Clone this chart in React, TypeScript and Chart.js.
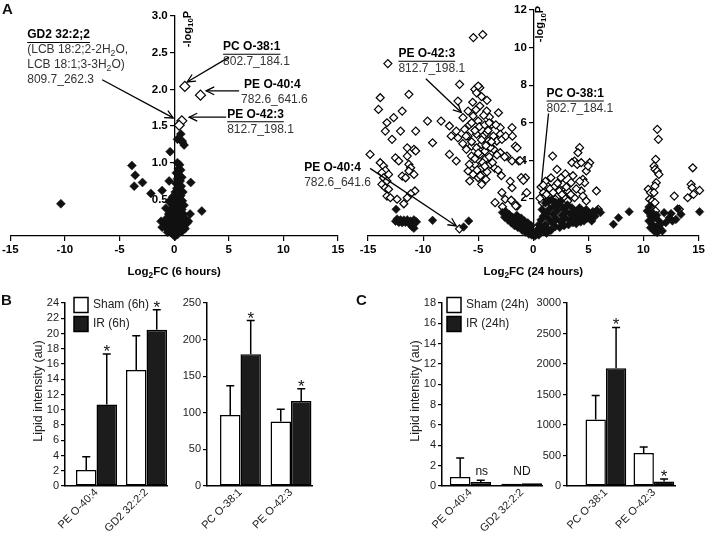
import React, { useEffect, useRef } from 'react';
import { Chart, registerables } from 'chart.js';

Chart.register(...registerables);

const FONT = '"Liberation Sans", Arial, Helvetica, sans-serif';
Chart.defaults.font.family = FONT;

type Pt = [number, number];
type Seg = [string, boolean?];

// ---------------- Panel A: 6 hours (Log2FC, -log10P) ----------------
const sixHourSignificant: Pt[] = [[0.98, 2.04], [2.41, 1.92], [0.7, 1.57], [0.46, 1.51]];
const sixHourOther: Pt[] = [
  [-10.37, 0.44], [-3.87, 0.96], [-3.57, 0.83], [-3.66, 0.68], [-2.9, 0.73], [-2.13, 0.58], [-1.1, 0.62],
  [0.61, 1.39], [0.3, 1.32], [0.7, 1.3], [0.91, 1.24], [0.76, 1.28], [-0.37, 1.15],
  [1.52, 0.73], [2.53, 0.34], [1.46, 0.3], [-0.46, 0.75], [-0.15, 0.53], [-0.46, 0.47], [-0.76, 0.38],
  [0.3, 1.0], [0.5, 0.97], [0.4, 0.92], [0.6, 0.9], [0.2, 0.86], [0.45, 0.83], [0.7, 0.8], [0.3, 0.78],
  [0.55, 0.75], [0.15, 0.72], [0.4, 0.7], [0.65, 0.68], [0.25, 0.65], [0.5, 0.63], [0.8, 0.6], [0.1, 0.6],
  [0.35, 0.57], [0.6, 0.55], [0.0, 0.55], [0.25, 0.52], [0.5, 0.5], [0.75, 0.48], [0.1, 0.47], [0.35, 0.45],
  [0.6, 0.43], [0.9, 0.42], [-0.1, 0.42], [0.2, 0.4], [0.45, 0.38], [0.7, 0.36], [-0.3, 0.36], [0.05, 0.35],
  [0.3, 0.33], [0.55, 0.31], [0.85, 0.3], [-0.5, 0.3], [-0.15, 0.29], [0.15, 0.28], [0.4, 0.26], [0.65, 0.25],
  [1.0, 0.24], [-0.7, 0.24], [-0.35, 0.23], [-0.05, 0.22], [0.25, 0.21], [0.5, 0.2], [0.8, 0.19], [1.2, 0.18],
  [-0.9, 0.18], [-0.55, 0.17], [-0.2, 0.16], [0.1, 0.15], [0.35, 0.14], [0.6, 0.13], [0.9, 0.12], [-1.1, 0.12],
  [-0.75, 0.11], [-0.4, 0.1], [-0.1, 0.09], [0.2, 0.08], [0.45, 0.07], [0.7, 0.06], [1.0, 0.1], [-0.6, 0.05],
  [-0.25, 0.04], [0.05, 0.03], [0.3, 0.02], [0.1, 0.0], [-0.05, 0.01], [1.3, 0.2], [-1.2, 0.2],
];

// ---------------- Panel A: 24 hours ----------------
const dayOpen: Pt[] = [
  [-5.44, 10.53], [-4.59, 10.69], [-13.2, 9.15], [-13.89, 7.34], [-11.29, 7.52], [-6.69, 8.05], [-5.31, 7.78],
  [-4.85, 7.87], [-5.15, 7.6], [-5.0, 7.96], [-6.84, 7.16], [-14.05, 6.72], [-12.67, 6.28], [-11.9, 6.63],
  [-13.28, 6.01], [-13.43, 5.57], [-12.05, 5.57], [-10.67, 5.57], [-12.82, 5.13], [-11.44, 4.68], [-10.83, 4.6],
  [-9.6, 6.1], [-8.37, 6.1], [-9.14, 4.95], [-7.45, 5.3], [-6.84, 5.21], [-5.92, 6.63], [-4.85, 6.9],
  [-4.23, 6.63], [-3.16, 6.54], [-6.38, 6.28], [-5.46, 6.37], [-5.0, 6.1], [-3.98, 6.31], [-3.77, 5.92],
  [-3.0, 5.75], [-1.93, 5.75], [-7.61, 5.84], [-6.99, 5.57], [-6.23, 5.66], [-5.92, 5.3], [-5.15, 5.4],
  [-4.54, 5.31], [-4.23, 5.48], [-3.62, 5.3], [-3.0, 5.4], [-5.61, 4.77], [-5.15, 4.68], [-4.69, 4.86],
  [-4.08, 5.04], [-3.31, 5.04], [-2.85, 5.13], [-1.63, 4.77], [-7.61, 4.33], [-6.99, 3.98], [-6.07, 4.6],
  [-5.61, 4.24], [-4.85, 4.33], [-4.39, 4.07], [-5.31, 3.8], [-5.92, 3.45], [-5.46, 3.27], [-5.0, 3.09],
  [-5.77, 2.92], [-4.69, 2.74], [-3.93, 3.8], [-3.0, 4.42], [-2.39, 4.24], [-1.47, 4.68], [-1.93, 3.98],
  [-1.32, 3.98], [-0.71, 3.09], [-2.85, 2.3], [-3.47, 1.77], [-2.55, 1.95], [-1.93, 2.56], [-1.78, 1.77],
  [-1.47, 1.59], [-6.7, 0.38],
  [-4.4, 4.5], [-4.0, 4.2], [-3.6, 4.6], [-5.3, 4.1], [-4.7, 3.6], [-4.2, 3.4], [-3.5, 3.6], [-4.9, 5.8],
  [-4.4, 5.9], [-3.4, 5.9], [-5.6, 5.0], [-2.5, 5.3], [-3.9, 4.7], [-4.6, 3.9], [-5.8, 3.8], [-4.0, 6.0],
  [-4.5, 6.4], [-5.2, 6.7], [-5.5, 7.1], [-2.6, 4.2], [-1.9, 5.3], [-1.2, 4.0], [-2.1, 2.9], [-1.1, 3.1],
  [-0.9, 2.95], [-2.8, 1.55], [-2.0, 1.9], [-1.6, 1.6], [-0.6, 2.3],
  [-5.8, 5.9], [-5.3, 5.6], [-4.7, 5.1], [-4.1, 5.6], [-3.8, 5.0], [-4.3, 4.8], [-5.0, 4.4], [-3.3, 4.3],
  [-3.7, 3.9], [-4.4, 3.7], [-5.1, 3.5], [-4.8, 3.2], [-4.3, 3.0], [-6.4, 4.9], [-6.1, 5.3], [-3.2, 3.5],
  [-2.9, 3.2], [-5.6, 6.0], [-4.2, 7.2], [-4.7, 7.4],
  [-14.81, 4.33], [-13.89, 3.89], [-13.59, 3.71], [-13.43, 3.48], [-13.74, 3.36], [-13.13, 3.27],
  [-13.59, 3.09], [-13.28, 2.92], [-13.74, 2.74], [-13.43, 2.56], [-13.13, 2.48], [-13.28, 2.12],
  [-12.97, 2.03], [-12.36, 1.95], [-11.75, 1.71], [-12.51, 4.15], [-12.21, 3.98], [-11.44, 4.24],
  [-10.67, 4.51], [-11.29, 3.8], [-11.13, 3.62], [-11.9, 3.18], [-11.59, 3.09], [-10.83, 3.27],
  [-11.29, 3.45], [-10.74, 2.39], [-11.13, 2.24], [-11.44, 2.03],
  [0.92, 2.3], [0.98, 2.03], [0.83, 1.77], [1.44, 2.21], [1.29, 2.65], [1.6, 3.09], [1.75, 4.24],
  [2.15, 3.54], [2.51, 3.09], [2.67, 2.74], [3.43, 2.83], [3.13, 2.39], [2.36, 2.39], [2.82, 2.03],
  [3.13, 1.86], [3.74, 2.03], [4.35, 2.39], [4.5, 2.12], [4.81, 1.86], [5.73, 2.39], [5.89, 1.42],
  [4.2, 4.69], [4.05, 4.42], [3.74, 3.98], [3.5, 3.89], [3.99, 3.8], [4.35, 3.89], [5.12, 3.89],
  [4.81, 3.45], [4.97, 3.71], [4.5, 3.01], [4.66, 2.83], [0.7, 2.6], [1.1, 2.9], [1.3, 1.9], [1.9, 2.6],
  [2.0, 1.95], [1.6, 1.7], [2.3, 1.75],
  [0.9, 2.7], [1.5, 2.5], [1.8, 2.3], [2.2, 2.8], [2.6, 2.2], [3.0, 2.6], [3.4, 2.2], [3.9, 2.5],
  [4.2, 2.9], [3.6, 3.2], [2.9, 3.3], [1.2, 2.2], [0.6, 2.0],
  [11.25, 5.66], [11.35, 5.13], [11.1, 4.07], [10.95, 3.71], [11.04, 3.54], [11.25, 3.45], [11.4, 3.27],
  [11.16, 2.83], [11.04, 2.65], [10.43, 2.48], [10.64, 2.3], [10.95, 2.3], [10.55, 1.95], [10.79, 1.86],
  [11.04, 1.77], [10.64, 1.5], [11.1, 1.33], [12.79, 2.12], [13.25, 1.42], [14.47, 3.62], [14.32, 2.74],
  [14.41, 2.56], [15.09, 2.42], [14.54, 2.21], [14.01, 2.03], [10.8, 0.45], [11.3, 0.5],
];
const dayFilled: Pt[] = [
  [-12.45, 1.42], [-12.5, 0.78], [-12.36, 0.9], [-12.2, 0.72], [-12.05, 0.86], [-11.9, 0.7], [-11.75, 0.85],
  [-11.6, 0.72], [-11.44, 0.86], [-11.3, 0.68], [-11.13, 0.8], [-11.05, 0.58], [-10.98, 0.48], [-10.83, 0.86],
  [-10.83, 0.41], [-10.6, 0.75], [-9.14, 0.83], [-6.32, 0.48], [-5.86, 0.8],
  [-2.8, 1.25], [-2.6, 1.0], [-2.5, 1.3], [-2.3, 0.85], [-2.2, 1.15], [-2.0, 0.7], [-1.9, 1.0], [-1.7, 0.55],
  [-1.6, 0.85], [-1.5, 1.1], [-1.4, 0.45], [-1.2, 0.7], [-1.1, 0.95], [-1.0, 0.3], [-0.9, 0.55], [-0.8, 0.8],
  [-0.7, 0.2], [-0.6, 0.45], [-0.5, 0.7], [-0.4, 0.1], [-0.3, 0.35], [-0.2, 0.55], [-0.15, 0.05], [-0.1, 0.25],
  [0.0, 0.05], [0.15, 0.0], [-0.05, 0.12], [0.5, 0.05], [1.2, 0.15],
  [0.3, 0.1], [0.4, 0.35], [0.5, 0.6], [0.6, 0.2], [0.7, 0.85], [0.8, 0.45], [0.9, 1.05], [1.0, 0.25],
  [1.1, 0.6], [1.2, 1.2], [1.3, 0.4], [1.4, 0.9], [1.5, 1.45], [1.6, 0.3], [1.7, 0.7], [1.8, 1.15], [1.9, 1.6],
  [2.0, 0.5], [2.1, 0.9], [2.2, 1.35], [2.3, 1.7], [2.4, 0.45], [2.5, 0.75], [2.6, 1.1], [2.7, 1.5], [2.8, 0.55],
  [2.9, 0.95], [3.0, 1.3], [3.1, 1.65], [3.2, 0.6], [3.3, 0.85], [3.4, 1.15], [3.5, 1.5], [3.6, 0.7], [3.7, 1.0],
  [3.8, 1.3], [3.9, 0.65], [4.0, 0.9], [4.1, 1.2], [4.2, 1.5], [4.3, 0.75], [4.4, 1.0], [4.5, 1.3], [4.6, 0.8],
  [4.7, 1.1], [4.8, 1.4], [4.9, 0.95], [5.0, 1.2], [5.2, 1.0], [5.3, 0.8], [5.4, 1.3], [5.6, 1.05], [5.8, 1.35],
  [6.1, 1.25], [0.8, 1.4], [1.1, 1.75], [1.4, 1.85], [1.7, 1.9], [2.0, 1.8], [2.5, 1.85],
  [7.27, 0.62], [7.73, 0.97], [8.7, 1.29], [10.33, 1.33], [10.64, 1.06], [10.95, 0.97], [10.49, 0.8],
  [10.79, 0.62], [11.1, 0.44], [10.64, 0.44], [10.95, 0.27], [11.4, 0.8], [12.33, 0.97], [12.63, 0.8],
  [12.94, 0.88], [12.02, 0.71], [11.4, 0.44], [11.71, 0.27], [11.25, 0.18], [11.56, 0.62], [11.87, 1.24],
  [13.4, 1.15], [15.09, 1.29], [11.2, 1.1], [10.8, 1.25], [10.5, 1.54], [13.1, 1.45], [12.5, 1.19],
];

// ---------------- Panel B: 6 h bars ----------------
const b6hLeftCats = ['PE O-40:4', 'GD2 32:2:2'];
const b6hLeftSham = [2.1, 15.2];
const b6hLeftShamSd = [1.75, 4.5];
const b6hLeftIr = [10.7, 20.5];
const b6hLeftIrSd = [6.6, 2.6];
const b6hLeftIrMarks = ['*', '*'];

const b6hRightCats = ['PC O-38:1', 'PE O-42:3'];
const b6hRightSham = [97, 88];
const b6hRightShamSd = [40, 17];
const b6hRightIr = [180, 116];
const b6hRightIrSd = [46, 17];
const b6hRightIrMarks = ['*', '*'];

// ---------------- Panel C: 24 h bars ----------------
const c24hLeftCats = ['PE O-40:4', 'GD2 32:2:2'];
const c24hLeftSham = [0.89, 0.22];
const c24hLeftShamSd = [1.87, 0];
const c24hLeftIr = [0.39, 0.28];
const c24hLeftIrSd = [0.17, 0];
const c24hLeftIrMarks = ['ns', ''];
const c24hLeftGroupMarks = ['', 'ND'];

const c24hRightCats = ['PC O-38:1', 'PE O-42:3'];
const c24hRightSham = [1090, 540];
const c24hRightShamSd = [395, 98];
const c24hRightIr = [1930, 75];
const c24hRightIrSd = [670, 40];
const c24hRightIrMarks = ['*', '*'];

// ---------------- drawing helpers ----------------
function richWidth(ctx: CanvasRenderingContext2D, segs: Seg[], size: number, weight: string) {
  let w = 0;
  for (const [t, sub] of segs) {
    ctx.font = `${weight} ${sub ? size * 0.72 : size}px ${FONT}`;
    w += ctx.measureText(t).width;
  }
  return w;
}

function drawRich(
  ctx: CanvasRenderingContext2D, segs: Seg[], x: number, y: number, size: number,
  weight: string, align: 'left' | 'center' | 'right', color: string, underline = false,
) {
  const w = richWidth(ctx, segs, size, weight);
  let cx = align === 'left' ? x : align === 'center' ? x - w / 2 : x - w;
  const start = cx;
  ctx.fillStyle = color;
  ctx.textAlign = 'left';
  ctx.textBaseline = 'middle';
  for (const [t, sub] of segs) {
    ctx.font = `${weight} ${sub ? size * 0.72 : size}px ${FONT}`;
    ctx.fillText(t, cx, sub ? y + size * 0.28 : y);
    cx += ctx.measureText(t).width;
  }
  if (underline) {
    ctx.strokeStyle = color;
    ctx.lineWidth = 1.1;
    ctx.beginPath();
    ctx.moveTo(start, y + size * 0.62);
    ctx.lineTo(start + w, y + size * 0.62);
    ctx.stroke();
  }
}

function drawArrow(ctx: CanvasRenderingContext2D, x1: number, y1: number, x2: number, y2: number, head: boolean) {
  ctx.strokeStyle = '#000';
  ctx.lineWidth = 1.3;
  ctx.beginPath();
  ctx.moveTo(x1, y1);
  ctx.lineTo(x2, y2);
  ctx.stroke();
  if (head) {
    const a = Math.atan2(y2 - y1, x2 - x1);
    const L = 9;
    const w = 0.45;
    ctx.beginPath();
    ctx.moveTo(x2 - L * Math.cos(a - w), y2 - L * Math.sin(a - w));
    ctx.lineTo(x2, y2);
    ctx.lineTo(x2 - L * Math.cos(a + w), y2 - L * Math.sin(a + w));
    ctx.stroke();
  }
}

// ---------------- volcano plots ----------------
interface NoteLine { segs: Seg[]; bold?: boolean; underline?: boolean; dx?: number }
interface Note { at: Pt; lines: NoteLine[]; arrow?: { from: Pt; to: Pt; head: boolean } }

interface VolcanoSpec {
  left: number; top: number; width: number; height: number;
  pad: { left: number; right: number; top: number; bottom: number };
  filled: Pt[]; open: Pt[]; openR: number; filledR: number;
  yMax: number; yStep: number; yDecimals: number;
  xTitle: Seg[]; yTitleDx: number; yTitleY: number;
  notes: Note[];
}

const sixHourNotes: Note[] = [
  {
    at: [-13.45, 2.74],
    lines: [
      { segs: [['GD2 32:2;2']], bold: true, underline: true },
      { segs: [['(LCB 18:2;2-2H'], ['2', true], ['O,']] },
      { segs: [['LCB 18:1;3-3H'], ['2', true], ['O)']] },
      { segs: [['809.7_262.3']] },
    ],
    arrow: { from: [-6.59, 2.13], to: [-0.09, 1.61], head: true },
  },
  {
    at: [4.48, 2.58],
    lines: [{ segs: [['PC O-38:1']], bold: true, underline: true }, { segs: [['802.7_184.1']] }],
    arrow: { from: [5.03, 2.44], to: [1.19, 2.1], head: true },
  },
  {
    at: [6.4, 2.07],
    lines: [{ segs: [['PE O-40:4']], bold: true }, { segs: [['782.6_641.6']], dx: -3 }],
    arrow: { from: [5.95, 1.98], to: [2.93, 1.98], head: true },
  },
  {
    at: [4.85, 1.66],
    lines: [{ segs: [['PE O-42:3']], bold: true, underline: true }, { segs: [['812.7_198.1']] }],
    arrow: { from: [4.76, 1.62], to: [1.37, 1.62], head: true },
  },
];

const dayNotes: Note[] = [
  {
    at: [-12.24, 9.67],
    lines: [{ segs: [['PE O-42:3']], bold: true, underline: true }, { segs: [['812.7_198.1']] }],
    arrow: { from: [-9.75, 8.35], to: [-6.53, 6.55], head: true },
  },
  {
    at: [1.2, 7.56],
    lines: [{ segs: [['PC O-38:1']], bold: true, underline: true }, { segs: [['802.7_184.1']] }],
    arrow: { from: [1.38, 6.5], to: [0.74, 2.8], head: false },
  },
  {
    at: [-20.79, 3.65],
    lines: [{ segs: [['PE O-40:4']], bold: true }, { segs: [['782.6_641.6']] }],
    arrow: { from: [-14.81, 3.59], to: [-6.99, 0.53], head: true },
  },
];

const sixHourSpec: VolcanoSpec = {
  left: 0, top: 0, width: 355, height: 290,
  pad: { left: 10, right: 17, top: 16, bottom: 4 },
  filled: sixHourOther, open: sixHourSignificant, openR: 5, filledR: 4.5,
  yMax: 3, yStep: 0.5, yDecimals: 1,
  xTitle: [['Log'], ['2', true], ['FC (6 hours)']], yTitleDx: 13.5, yTitleY: 29,
  notes: sixHourNotes,
};

const daySpec: VolcanoSpec = {
  left: 300, top: 0, width: 407, height: 290,
  pad: { left: 68, right: 8, top: 9, bottom: 4 },
  filled: dayFilled, open: dayOpen, openR: 4, filledR: 4.3,
  yMax: 12, yStep: 2, yDecimals: 0,
  xTitle: [['Log'], ['2', true], ['FC (24 hours)']], yTitleDx: 7, yTitleY: 24,
  notes: dayNotes,
};

function Volcano({ spec }: { spec: VolcanoSpec }) {
  const ref = useRef<HTMLCanvasElement | null>(null);
  useEffect(() => {
    if (!ref.current) return;
    const s = spec;
    const notePlugin = {
      id: 'volcanoNotes',
      afterDraw(chart: any) {
        const { ctx, chartArea: ca } = chart;
        const xs = chart.scales.x;
        const ys = chart.scales.y;
        const ax = xs.getPixelForValue(0);
        ctx.save();
        ctx.translate(ax + s.yTitleDx, s.yTitleY);
        ctx.rotate(-Math.PI / 2);
        drawRich(ctx, [['-log'], ['10', true], ['P']], 0, 0, 11, 'bold', 'center', '#000');
        ctx.restore();
        ctx.save();
        drawRich(ctx, s.xTitle, (ca.left + ca.right) / 2, ca.bottom + 36, 11.5, 'bold', 'center', '#000');
        for (const n of s.notes) {
          const px = xs.getPixelForValue(n.at[0]);
          const py = ys.getPixelForValue(n.at[1]);
          n.lines.forEach((ln, i) => {
            drawRich(ctx, ln.segs, px + (ln.dx || 0), py + i * 15, 12, ln.bold ? 'bold' : 'normal', 'left',
              ln.bold ? '#000' : '#333', !!ln.underline);
          });
          if (n.arrow) {
            drawArrow(ctx, xs.getPixelForValue(n.arrow.from[0]), ys.getPixelForValue(n.arrow.from[1]),
              xs.getPixelForValue(n.arrow.to[0]), ys.getPixelForValue(n.arrow.to[1]), n.arrow.head);
          }
        }
        ctx.restore();
      },
    };
    const chart = new Chart(ref.current, {
      type: 'scatter',
      data: {
        datasets: [
          {
            data: s.filled.map(([x, y]) => ({ x, y })), clip: false,
            pointStyle: 'rectRot', pointRadius: s.filledR, backgroundColor: '#111', borderColor: '#111', borderWidth: 0.5,
          },
          {
            data: s.open.map(([x, y]) => ({ x, y })), clip: false,
            pointStyle: 'rectRot', pointRadius: s.openR, backgroundColor: '#fff', borderColor: '#000', borderWidth: 1.2,
          },
        ],
      },
      options: {
        responsive: false, animation: false, devicePixelRatio: 1, events: [],
        layout: { padding: s.pad },
        plugins: { legend: { display: false }, tooltip: { enabled: false } },
        scales: {
          x: {
            type: 'linear', min: -15, max: 15,
            ticks: { stepSize: 5, color: '#000', font: { size: 11.5, weight: 'bold' }, padding: 2, callback: (v: any) => String(v) },
            grid: { drawOnChartArea: false, tickLength: 5, color: '#000', lineWidth: 1.2 },
            border: { display: true, color: '#000', width: 1.3 },
            afterFit: (sc: any) => { sc.height = 50; },
          },
          y: {
            type: 'linear', position: { x: 0 } as any, min: 0, max: s.yMax,
            ticks: {
              stepSize: s.yStep, color: '#000', font: { size: 11.5, weight: 'bold' }, autoSkip: false,
              callback: (v: any) => (Number(v) === 0 ? '' : Number(v).toFixed(s.yDecimals) + '  '),
            },
            grid: { drawOnChartArea: false, tickLength: 4, color: '#000', lineWidth: 1.2 },
            border: { display: true, color: '#000', width: 1.3 },
          },
        },
      } as any,
      plugins: [notePlugin],
    });
    return () => chart.destroy();
  }, [spec]);
  return (
    <canvas ref={ref} width={spec.width} height={spec.height}
      style={{ position: 'absolute', left: spec.left, top: spec.top, width: spec.width, height: spec.height }} />
  );
}

// ---------------- bar charts ----------------
interface BarSpec {
  left: number; top: number; width: number; height: number;
  pad: { left: number; right: number; top: number; bottom: number };
  yWidth: number; xHeight: number;
  cats: string[]; sham: number[]; shamSd: number[]; ir: number[]; irSd: number[];
  irMarks: string[]; groupMarks?: string[];
  yMax: number; yStep: number; xMin: number; xMax: number; catPct: number;
  legend?: string[]; legendDx?: number; yTitle?: boolean;
}

const bLeftSpec: BarSpec = {
  left: 0, top: 290, width: 185, height: 246, pad: { left: 35, right: 18, top: 13, bottom: 5 },
  yWidth: 30, xHeight: 45,
  cats: b6hLeftCats, sham: b6hLeftSham, shamSd: b6hLeftShamSd, ir: b6hLeftIr, irSd: b6hLeftIrSd,
  irMarks: b6hLeftIrMarks, yMax: 24, yStep: 2, xMin: 0.37, xMax: 2.41, catPct: 0.82,
  legend: ['Sham (6h)', 'IR (6h)'], legendDx: 9, yTitle: true,
};
const bRightSpec: BarSpec = {
  left: 160, top: 290, width: 165, height: 246, pad: { left: 17, right: 13, top: 13, bottom: 5 },
  yWidth: 30, xHeight: 45,
  cats: b6hRightCats, sham: b6hRightSham, shamSd: b6hRightShamSd, ir: b6hRightIr, irSd: b6hRightIrSd,
  irMarks: b6hRightIrMarks, yMax: 250, yStep: 50, xMin: 0.337, xMax: 2.416, catPct: 0.81,
};
const cLeftSpec: BarSpec = {
  left: 355, top: 290, width: 200, height: 246, pad: { left: 57, right: 13, top: 13, bottom: 5 },
  yWidth: 30, xHeight: 45,
  cats: c24hLeftCats, sham: c24hLeftSham, shamSd: c24hLeftShamSd, ir: c24hLeftIr, irSd: c24hLeftIrSd,
  irMarks: c24hLeftIrMarks, groupMarks: c24hLeftGroupMarks, yMax: 18, yStep: 2, xMin: 0.447, xMax: 2.39, catPct: 0.8,
  legend: ['Sham (24h)', 'IR (24h)'], legendDx: 5, yTitle: true,
};
const cRightSpec: BarSpec = {
  left: 505, top: 290, width: 195, height: 246, pad: { left: 30, right: 25, top: 13, bottom: 5 },
  yWidth: 32, xHeight: 45,
  cats: c24hRightCats, sham: c24hRightSham, shamSd: c24hRightShamSd, ir: c24hRightIr, irSd: c24hRightIrSd,
  irMarks: c24hRightIrMarks, yMax: 3000, yStep: 500, xMin: 0.19, xMax: 2.44, catPct: 0.85,
};

const IR_FILL = '#1c1c1c';

function Bars({ spec }: { spec: BarSpec }) {
  const ref = useRef<HTMLCanvasElement | null>(null);
  useEffect(() => {
    if (!ref.current) return;
    const s = spec;
    const toXY = (vals: number[]) => vals.map((v, i) => ({ x: i + 1, y: v }));
    const extras = {
      id: 'barExtras',
      afterDatasetsDraw(chart: any) {
        const { ctx } = chart;
        const ys = chart.scales.y;
        const groups: [number[], number[]][] = [[s.sham, s.shamSd], [s.ir, s.irSd]];
        ctx.save();
        ctx.strokeStyle = '#000';
        ctx.lineWidth = 1.5;
        groups.forEach(([vals, sds], di) => {
          const meta = chart.getDatasetMeta(di);
          meta.data.forEach((bar: any, i: number) => {
            const sd = sds[i];
            if (!sd) return;
            const yTop = ys.getPixelForValue(vals[i] + sd);
            ctx.beginPath();
            ctx.moveTo(bar.x, bar.y);
            ctx.lineTo(bar.x, yTop);
            ctx.moveTo(bar.x - 4, yTop);
            ctx.lineTo(bar.x + 4, yTop);
            ctx.stroke();
          });
        });
        const irMeta = chart.getDatasetMeta(1);
        const shamMeta = chart.getDatasetMeta(0);
        ctx.fillStyle = '#111';
        ctx.textAlign = 'center';
        irMeta.data.forEach((bar: any, i: number) => {
          const mark = s.irMarks[i];
          if (!mark) return;
          const top = s.irSd[i] ? ys.getPixelForValue(s.ir[i] + s.irSd[i]) : bar.y;
          if (mark === '*') {
            ctx.font = `17px ${FONT}`;
            ctx.textBaseline = 'alphabetic';
            ctx.fillText('*', bar.x, top + 3);
          } else {
            ctx.font = `12px ${FONT}`;
            ctx.textBaseline = 'middle';
            ctx.fillText(mark, bar.x + 1, top - 9);
          }
        });
        (s.groupMarks || []).forEach((mark, i) => {
          if (!mark) return;
          const a = shamMeta.data[i];
          const b = irMeta.data[i];
          ctx.font = `12px ${FONT}`;
          ctx.textBaseline = 'middle';
          ctx.fillText(mark, (a.x + b.x) / 2, Math.min(a.y, b.y) - 11);
        });
        ctx.restore();
      },
      afterDraw(chart: any) {
        const { ctx, chartArea: ca } = chart;
        ctx.save();
        if (s.legend) {
          s.legend.forEach((lab, i) => {
            const bx = ca.left + (s.legendDx || 0);
            const cy = ca.top + 2 + i * 19;
            ctx.fillStyle = i ? IR_FILL : '#fff';
            ctx.fillRect(bx, cy - 7.5, 14, 15);
            ctx.strokeStyle = '#000';
            ctx.lineWidth = 1.5;
            ctx.strokeRect(bx, cy - 7.5, 14, 15);
            ctx.fillStyle = '#222';
            ctx.font = `12px ${FONT}`;
            ctx.textAlign = 'left';
            ctx.textBaseline = 'middle';
            ctx.fillText(lab, bx + 19, cy);
          });
        }
        if (s.yTitle) {
          ctx.translate(ca.left - 26.5, 101);
          ctx.rotate(-Math.PI / 2);
          drawRich(ctx, [['Lipid intensity (au)']], 0, 0, 12.5, 'normal', 'center', '#222');
        }
        ctx.restore();
      },
    };
    const chart = new Chart(ref.current, {
      type: 'bar',
      data: {
        datasets: [
          {
            label: 'Sham', data: toXY(s.sham) as any, backgroundColor: '#fff', borderColor: '#000', borderWidth: 1.5,
            borderSkipped: false, categoryPercentage: s.catPct, barPercentage: 1,
          },
          {
            label: 'IR', data: toXY(s.ir) as any, backgroundColor: IR_FILL, borderColor: '#000', borderWidth: 1.5,
            borderSkipped: false, categoryPercentage: s.catPct, barPercentage: 1,
          },
        ],
      },
      options: {
        responsive: false, animation: false, devicePixelRatio: 1, events: [],
        layout: { padding: s.pad },
        plugins: { legend: { display: false }, tooltip: { enabled: false } },
        scales: {
          x: {
            type: 'linear', min: s.xMin, max: s.xMax, offset: false,
            grid: { display: true, drawOnChartArea: false, drawTicks: false },
            border: { display: true, color: '#000', width: 1.5 },
            ticks: {
              minRotation: 45, maxRotation: 45, autoSkip: false, padding: 0, color: '#222', font: { size: 11 },
              callback: (v: any) => s.cats[Math.round(Number(v)) - 1] ?? '',
            },
            afterBuildTicks: (sc: any) => { sc.ticks = s.cats.map((_, i) => ({ value: i + 1 })); },
            afterFit: (sc: any) => { sc.height = s.xHeight; },
          },
          y: {
            min: 0, max: s.yMax,
            ticks: { stepSize: s.yStep, autoSkip: false, color: '#222', font: { size: 11 }, padding: 2, callback: (v: any) => String(v) },
            grid: { drawOnChartArea: false, tickLength: 4, color: '#000', lineWidth: 1.2 },
            border: { display: true, color: '#000', width: 1.5 },
            afterFit: (sc: any) => { sc.width = s.yWidth; },
          },
        },
      } as any,
      plugins: [extras],
    });
    return () => chart.destroy();
  }, [spec]);
  return (
    <canvas ref={ref} width={spec.width} height={spec.height}
      style={{ position: 'absolute', left: spec.left, top: spec.top, width: spec.width, height: spec.height }} />
  );
}

const letterStyle: React.CSSProperties = {
  position: 'absolute', fontFamily: FONT, fontWeight: 'bold', fontSize: 15, lineHeight: '15px', color: '#111',
};

export default function App() {
  return (
    <div style={{ position: 'absolute', left: 0, top: 0, width: 707, height: 536, background: '#fff', overflow: 'hidden' }}>
      <Volcano spec={sixHourSpec} />
      <Volcano spec={daySpec} />
      <Bars spec={bLeftSpec} />
      <Bars spec={bRightSpec} />
      <Bars spec={cLeftSpec} />
      <Bars spec={cRightSpec} />
      <div style={{ ...letterStyle, left: 2, top: 1 }}>A</div>
      <div style={{ ...letterStyle, left: 1, top: 292 }}>B</div>
      <div style={{ ...letterStyle, left: 356, top: 292 }}>C</div>
    </div>
  );
}
